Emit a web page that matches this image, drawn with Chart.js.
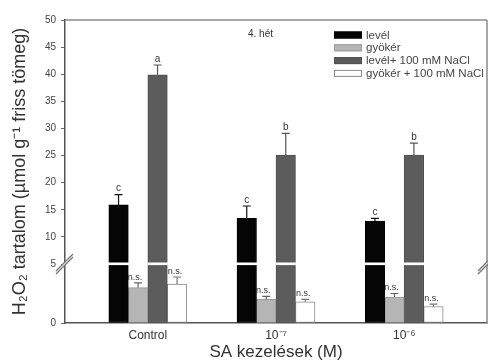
<!DOCTYPE html>
<html>
<head>
<meta charset="utf-8">
<script src="https://cdn.jsdelivr.net/npm/chart.js@4/dist/chart.umd.min.js"></script>
<style>
html,body{margin:0;padding:0;background:#fff;}
#wrap{width:488px;height:363px;position:relative;}
</style>
</head>
<body>
<div id="wrap"><canvas id="c" width="488" height="363"></canvas></div>
<script>
// ---- data ----
const categories = ['Control', '10\u207B\u2077', '10\u207B\u2076'];
const xPositions = [1, 2, 3];
const seriesLabels = ['levél', 'gyökér', 'levél+ 100 mM NaCl', 'gyökér + 100 mM NaCl'];
const level = [15.9, 13.4, 12.9];
const levelErr = [1.9, 2.3, 0.5];
const gyoker = [3.0, 2.0, 2.2];
const gyokerErr = [0.4, 0.25, 0.3];
const levelNaCl = [39.9, 25.1, 25.1];
const levelNaClErr = [1.8, 4.0, 2.2];
const gyokerNaCl = [3.3, 1.8, 1.4];
const gyokerNaClErr = [0.6, 0.2, 0.2];
const sigLevel = ['c', 'c', 'c'];
const sigGyoker = ['n.s.', 'n.s.', 'n.s.'];
const sigLevelNaCl = ['a', 'b', 'b'];
const sigGyokerNaCl = ['n.s.', 'n.s.', 'n.s.'];
const yTicks = [0, 5, 10, 15, 20, 25, 30, 35, 40, 45, 50];
const axisBreak = 5;
const panelLabel = '4. hét';

// ---- broken linear scale ----
const LOWER_FRAC = 59 / 303;
class BrokenLinearScale extends Chart.LinearScale {
  getPixelForValue(v) {
    const b = this.bottom, t = this.top;
    const bp = b - (b - t) * LOWER_FRAC;
    if (v <= axisBreak) return b - (v - this.min) / (axisBreak - this.min) * (b - bp);
    return bp - (v - axisBreak) / (this.max - axisBreak) * (bp - t);
  }
  getValueForPixel(p) {
    const b = this.bottom, t = this.top;
    const bp = b - (b - t) * LOWER_FRAC;
    if (p >= bp) return this.min + (b - p) / (b - bp) * (axisBreak - this.min);
    return axisBreak + (bp - p) / (bp - t) * (this.max - axisBreak);
  }
}
BrokenLinearScale.id = 'brokenLinear';
BrokenLinearScale.defaults = {};
Chart.register(BrokenLinearScale);

const FONT = "'Liberation Sans', Arial, sans-serif";
const mk = (arr) => arr.map((v, i) => ({x: xPositions[i], y: v}));

const datasets = [
  {label: seriesLabels[0], data: mk(level), err: levelErr, sig: sigLevel,
   backgroundColor: '#050505', borderColor: '#000', errColor: '#111', sigDx: 0},
  {label: seriesLabels[1], data: mk(gyoker), err: gyokerErr, sig: sigGyoker,
   backgroundColor: '#b5b5b5', borderColor: '#9a9a9a', errColor: '#666', sigDx: -3},
  {label: seriesLabels[2], data: mk(levelNaCl), err: levelNaClErr, sig: sigLevelNaCl,
   backgroundColor: '#5c5c5c', borderColor: '#505050', errColor: '#555', sigDx: 0},
  {label: seriesLabels[3], data: mk(gyokerNaCl), err: gyokerNaClErr, sig: sigGyokerNaCl,
   backgroundColor: '#ffffff', borderColor: '#8a8a8a', errColor: '#777', sigDx: -2}
].map(d => Object.assign(d, {borderWidth: 1, barThickness: 19.5, borderSkipped: false}));

const overlay = {
  id: 'overlay',
  afterDatasetsDraw(chart) {
    const ctx = chart.ctx, ca = chart.chartArea, ys = chart.scales.y;
    ctx.save();
    // white break band across bars
    const by = ys.getPixelForValue(axisBreak);
    ctx.fillStyle = '#fff';
    ctx.fillRect(ca.left + 1, by - 1.5, ca.right - ca.left - 2, 2.6);
    // error bars and significance letters
    chart.data.datasets.forEach((ds, di) => {
      const meta = chart.getDatasetMeta(di);
      meta.data.forEach((el, i) => {
        const v = ds.data[i].y, e = ds.err[i];
        const top = ys.getPixelForValue(v + e);
        ctx.strokeStyle = ds.errColor;
        ctx.lineWidth = 1.2;
        ctx.beginPath();
        ctx.moveTo(el.x, el.y);
        ctx.lineTo(el.x, top);
        ctx.moveTo(el.x - 4, top);
        ctx.lineTo(el.x + 4, top);
        ctx.stroke();
        ctx.fillStyle = '#333';
        ctx.font = (ds.sig[i] === 'n.s.' ? '9px ' : '10px ') + FONT;
        ctx.textAlign = 'center';
        ctx.textBaseline = 'bottom';
        ctx.fillText(ds.sig[i], el.x + ds.sigDx, top - 1);
      });
    });
    // top and right frame
    ctx.strokeStyle = '#8a8a8a';
    ctx.lineWidth = 1.5;
    ctx.beginPath();
    ctx.moveTo(ca.left, ca.top);
    ctx.lineTo(ca.right, ca.top);
    ctx.moveTo(ca.right, ca.top);
    ctx.lineTo(ca.right, ca.bottom);
    ctx.stroke();
    // break marks on both axes
    [ca.left, ca.right].forEach(x => {
      ctx.fillStyle = '#fff';
      ctx.beginPath();
      ctx.moveTo(x - 9, by + 7);
      ctx.lineTo(x + 8, by - 10);
      ctx.lineTo(x + 8, by - 7);
      ctx.lineTo(x - 9, by + 10);
      ctx.closePath();
      ctx.fill();
      ctx.strokeStyle = '#777';
      ctx.lineWidth = 1.3;
      ctx.beginPath();
      ctx.moveTo(x - 9, by + 7); ctx.lineTo(x + 8, by - 10);
      ctx.moveTo(x - 9, by + 10); ctx.lineTo(x + 8, by - 7);
      ctx.stroke();
    });
    // panel label
    ctx.fillStyle = '#333';
    ctx.font = '10px ' + FONT;
    ctx.textAlign = 'left';
    ctx.textBaseline = 'middle';
    ctx.fillText(panelLabel, 248, 34);
    // legend
    chart.data.datasets.forEach((ds, di) => {
      const yc = 35 + di * 12.8;
      ctx.fillStyle = ds.backgroundColor;
      ctx.fillRect(334, yc - 3.5, 28, 7);
      ctx.strokeStyle = ds.borderColor;
      ctx.lineWidth = 1;
      ctx.strokeRect(334.5, yc - 3, 27, 6);
      ctx.fillStyle = '#444';
      ctx.font = '11.5px ' + FONT;
      ctx.textAlign = 'left';
      ctx.textBaseline = 'middle';
      ctx.fillText(ds.label, 366, yc + 0.5);
    });
    ctx.restore();
  }
};

new Chart(document.getElementById('c'), {
  type: 'bar',
  data: {datasets},
  options: {
    responsive: false,
    animation: false,
    events: [],
    layout: {padding: {top: 20, right: 1, left: 0, bottom: 0}},
    plugins: {legend: {display: false}, tooltip: {enabled: false}},
    scales: {
      x: {
        type: 'linear',
        min: 0.354,
        max: 3.646,
        offset: false,
        afterBuildTicks: s => { s.ticks = xPositions.map(v => ({value: v})); },
        afterFit: s => { s.height = 40; },
        grid: {display: false, drawTicks: false, tickLength: 0},
        border: {display: true, color: '#555', width: 1.5},
        ticks: {
          padding: 5,
          color: '#333',
          font: {family: FONT, size: 12},
          callback: (v) => categories[xPositions.indexOf(v)] ?? ''
        },
        title: {display: true, text: 'SA kezelések (M)', color: '#333',
                font: {family: FONT, size: 17}, padding: {top: 0, bottom: 0}}
      },
      y: {
        type: 'brokenLinear',
        min: 0,
        max: 50,
        afterBuildTicks: s => { s.ticks = yTicks.map(v => ({value: v})); },
        afterFit: s => { s.width = 65; },
        grid: {display: true, drawOnChartArea: false, drawTicks: true, tickLength: 4, color: '#666'},
        border: {display: true, color: '#555', width: 1.5},
        ticks: {padding: 5, color: '#444', font: {family: FONT, size: 10},
                callback: v => String(v)},
        title: {display: true, text: 'H\u2082O\u2082 tartalom (\u00B5mol g\u207B\u00B9 friss tömeg)', color: '#333',
                font: {family: FONT, size: 18}, padding: {top: 9, bottom: 0}}
      }
    }
  },
  plugins: [overlay]
});
</script>
</body>
</html>
